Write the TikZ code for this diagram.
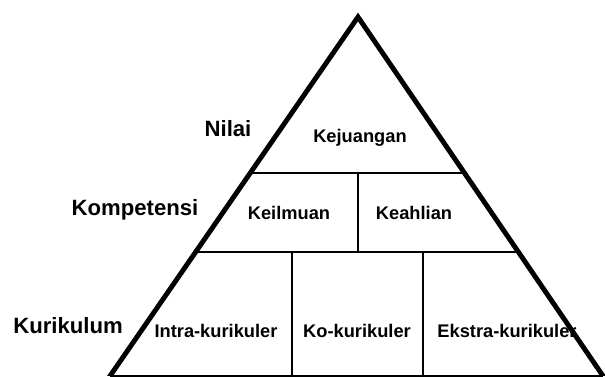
\documentclass[tikz,border=0pt]{standalone}
\usepackage{fontspec}
\setmainfont{Liberation Sans}
\usetikzlibrary{calc}
\tikzset{
  side/.style={line width=2.8pt, line join=miter},
  part/.style={line width=1.7pt},
  base/.style={line width=1.1pt},
  level/.style={font=\fontsize{12.6}{14}\selectfont\bfseries, inner sep=0pt},
  field/.style={font=\fontsize{10.4}{12}\selectfont\bfseries, inner sep=0pt}
}
\begin{document}
\begin{tikzpicture}[x=0.02cm, y=-0.02cm]
\useasboundingbox (0,0) rectangle (605,377);

\coordinate (apex) at (358,17);
\coordinate (bl) at (110,376);
\coordinate (br) at (603,376);

% pyramid sides
\begin{scope}
\clip (0,0) rectangle (605,376);
\draw [side] ($(bl)!-0.02!(apex)$) -- (apex) -- ($(br)!-0.02!(apex)$);
\end{scope}
\draw [base] (bl) -- (br);

% layers
\draw [part] (250,173) -- (465,173);
\draw [part] (195,252) -- (519,252);
\draw [part] (358,173) -- (358,252);
\draw [part] (292,252) -- (292,376);
\draw [part] (423,252) -- (423,376);

\node (nilai) [level] at (228,129) {Nilai};
\node (kejuangan) [field] at (360,138) {Kejuangan};

\node (kompetensi) [level] at (135,210) {Kompetensi};
\node (keilmuan) [field] at (289,213) {Keilmuan};
\node (keahlian) [field] at (414,213) {Keahlian};

\node (kurikulum) [level] at (68,326) {Kurikulum};
\node (intra) [field] at (216,331) {Intra-kurikuler};
\node (ko) [field] at (357,331) {Ko-kurikuler};
\node (ekstra) [field] at (507,331) {Ekstra-kurikuler};

\end{tikzpicture}
\end{document}
